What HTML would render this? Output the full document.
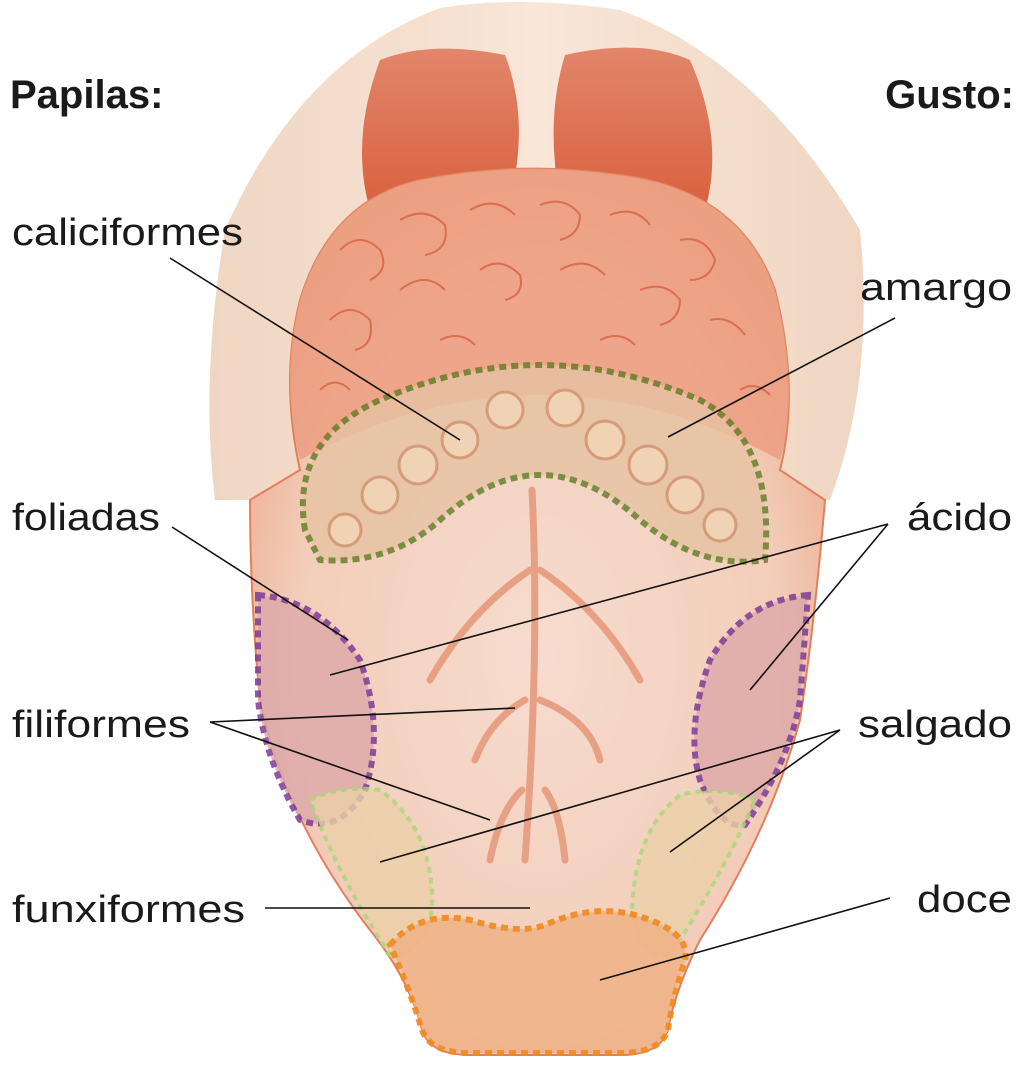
<!DOCTYPE html>
<html><head><meta charset="utf-8"><style>
html,body{margin:0;padding:0;background:#fff;width:1024px;height:1083px;overflow:hidden}
svg{display:block}
text{font-family:"Liberation Sans",sans-serif;fill:#1a1a1a}
</style></head><body>
<svg width="1024" height="1083" viewBox="0 0 1024 1083" xmlns="http://www.w3.org/2000/svg">
<defs>
<radialGradient id="tg" cx="0.5" cy="0.55" r="0.6">
<stop offset="0" stop-color="#f6dccf"/><stop offset="0.7" stop-color="#f3cdb9"/><stop offset="1" stop-color="#eba98a"/>
</radialGradient>
<linearGradient id="bg" x1="0" y1="0" x2="1" y2="0">
<stop offset="0" stop-color="#f0d6c2"/><stop offset="0.5" stop-color="#f8e6d8"/><stop offset="1" stop-color="#f0d6c2"/>
</linearGradient>
<linearGradient id="ton" x1="0" y1="0" x2="0" y2="1">
<stop offset="0" stop-color="#e2866a"/><stop offset="1" stop-color="#d9603e"/>
</linearGradient>
</defs>
<path d="M440 8 Q520 -5 620 10 Q760 60 860 230 Q875 380 830 500 L215 500 Q200 380 225 230 Q300 60 440 8Z" fill="url(#bg)"/>
<path d="M380 60 Q430 40 505 55 Q530 120 510 200 L370 210 Q350 140 380 60Z" fill="url(#ton)"/>
<path d="M565 55 Q640 38 690 60 Q725 140 705 210 L560 200 Q545 120 565 55Z" fill="url(#ton)"/>
<path d="M250 500 L300 470 Q280 380 300 300 Q330 200 420 180 Q520 160 620 175 Q740 190 775 290 Q800 390 780 470 L825 500 Q815 620 800 720 Q770 830 700 940 Q675 990 668 1030 Q660 1055 620 1055 L470 1055 Q430 1055 422 1030 Q410 980 370 930 Q285 820 260 700 Q250 600 250 500Z" fill="url(#tg)" stroke="#e0805e" stroke-width="2"/>
<path d="M300 460 Q280 380 300 300 Q330 200 420 180 Q520 160 620 175 Q740 190 775 290 Q800 390 780 460 Q540 330 300 460Z" fill="#ec9e80" opacity="0.85"/>
<g fill="none" stroke="#d4583a" stroke-width="2" opacity="0.7">
<path d="M340 250 q20 -20 40 0 q10 20 -10 30"/><path d="M400 220 q25 -15 45 5 q5 25 -20 30"/><path d="M470 210 q25 -15 45 5"/><path d="M540 205 q25 -10 40 10 q0 20 -20 25"/><path d="M610 215 q25 -10 40 10"/><path d="M680 240 q25 -5 35 20 q-5 20 -25 20"/><path d="M330 320 q20 -20 40 0 q5 25 -15 30"/><path d="M400 290 q25 -20 45 0"/><path d="M480 270 q20 -15 40 5 q5 20 -15 25"/><path d="M560 270 q25 -15 45 5"/><path d="M640 290 q25 -10 40 10 q0 20 -20 25"/><path d="M710 320 q20 -5 35 15"/><path d="M320 390 q15 -15 30 0"/><path d="M740 390 q15 -10 30 5"/><path d="M440 340 q20 -10 35 5"/><path d="M600 340 q20 -10 35 5"/>
</g>
<g fill="none" stroke="#e8a084" stroke-width="7" stroke-linecap="round">
<path d="M532 490 Q540 650 525 860"/><path d="M530 570 Q470 610 430 680"/><path d="M540 570 Q600 610 640 680"/><path d="M525 700 Q490 720 475 760"/><path d="M540 700 Q590 720 600 760"/><path d="M522 790 Q500 810 490 860"/><path d="M545 790 Q560 810 565 860"/>
</g>
<path d="M305 530 Q290 440 380 400 Q540 330 700 400 Q775 440 765 560 Q700 570 640 520 Q540 430 440 520 Q390 565 320 560 Z" fill="#e7c3a3" opacity="0.8" stroke="#5f7d23" stroke-width="6" stroke-dasharray="7 5"/>
<g fill="#f0d3b4" stroke="#d49c78" stroke-width="3">
<circle cx="345" cy="530" r="16"/><circle cx="380" cy="495" r="18"/><circle cx="418" cy="465" r="19"/><circle cx="460" cy="440" r="18"/><circle cx="505" cy="410" r="18"/><circle cx="565" cy="408" r="18"/><circle cx="605" cy="440" r="19"/><circle cx="648" cy="465" r="19"/><circle cx="685" cy="495" r="18"/><circle cx="720" cy="525" r="16"/>
</g>
<path d="M258 595 Q320 600 360 660 Q385 730 365 790 Q340 835 300 820 Q265 760 258 700 Z" fill="#deaaaa" opacity="0.85" stroke="#7d3a96" stroke-width="6" stroke-dasharray="7 5"/>
<path d="M808 595 Q745 600 710 660 Q685 730 700 780 Q720 830 745 825 Q790 760 800 700 Z" fill="#deaaaa" opacity="0.85" stroke="#7d3a96" stroke-width="6" stroke-dasharray="7 5"/>
<path d="M310 800 Q340 785 380 790 Q435 830 432 910 Q420 960 390 955 Q340 880 310 800Z" fill="#ecd0a8" opacity="0.8" stroke="#a8d878" stroke-width="4" stroke-dasharray="6 5"/>
<path d="M755 800 Q720 785 680 795 Q635 830 632 910 Q640 960 670 955 Q720 880 755 800Z" fill="#ecd0a8" opacity="0.8" stroke="#a8d878" stroke-width="4" stroke-dasharray="6 5"/>
<path d="M390 945 Q420 910 470 920 Q520 935 545 925 Q600 900 650 920 Q690 935 685 960 Q672 1000 668 1030 Q660 1053 620 1053 L470 1053 Q430 1053 422 1030 Q410 990 390 945Z" fill="#f0b489" opacity="0.9" stroke="#ef8a1e" stroke-width="6" stroke-dasharray="7 5"/>
<g stroke="#111" stroke-width="1.6" fill="none">
<line x1="170" y1="258" x2="460" y2="440"/><line x1="895" y1="318" x2="668" y2="437"/>
<line x1="172" y1="527" x2="348" y2="640"/><line x1="888" y1="524" x2="330" y2="675"/><line x1="888" y1="524" x2="750" y2="690"/>
<line x1="210" y1="722" x2="515" y2="708"/><line x1="210" y1="722" x2="490" y2="820"/>
<line x1="840" y1="730" x2="380" y2="862"/><line x1="840" y1="730" x2="670" y2="852"/>
<line x1="265" y1="908" x2="530" y2="908"/><line x1="890" y1="898" x2="600" y2="980"/>
</g>
<text x="10" y="108" font-size="40" font-weight="bold">Papilas:</text>
<text x="1014" y="108" font-size="40" font-weight="bold" text-anchor="end">Gusto:</text>
<text x="12" y="245" font-size="38" textLength="231" lengthAdjust="spacingAndGlyphs">caliciformes</text>
<text x="860" y="300" font-size="38" textLength="152" lengthAdjust="spacingAndGlyphs">amargo</text>
<text x="12" y="530" font-size="38" textLength="148" lengthAdjust="spacingAndGlyphs">foliadas</text>
<text x="907" y="530" font-size="38" textLength="105" lengthAdjust="spacingAndGlyphs">ácido</text>
<text x="12" y="737" font-size="38" textLength="178" lengthAdjust="spacingAndGlyphs">filiformes</text>
<text x="858" y="737" font-size="38" textLength="154" lengthAdjust="spacingAndGlyphs">salgado</text>
<text x="12" y="922" font-size="38" textLength="233" lengthAdjust="spacingAndGlyphs">funxiformes</text>
<text x="917" y="912" font-size="38" textLength="95" lengthAdjust="spacingAndGlyphs">doce</text>
</svg>
</body></html>
